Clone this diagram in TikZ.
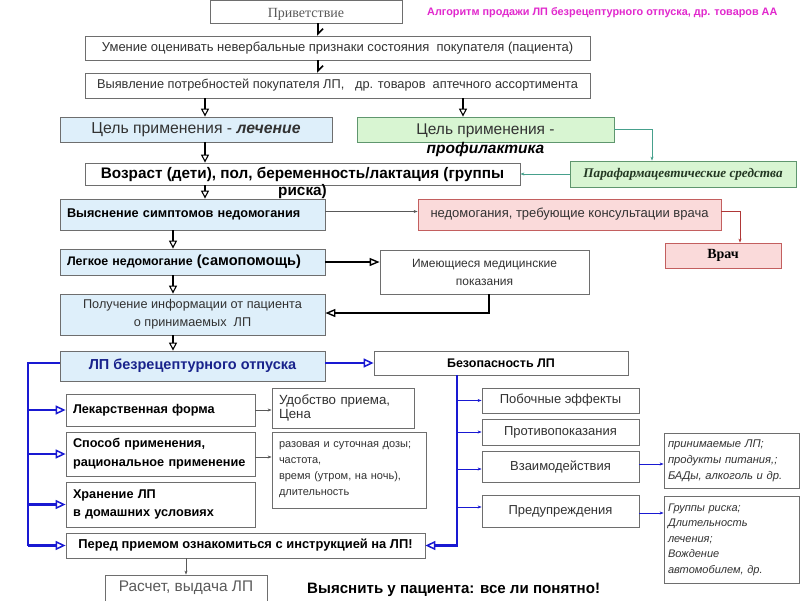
\documentclass[tikz,border=0pt]{standalone}
\usepackage{fontspec}
\setmainfont{Liberation Sans}
\newfontfamily\serifru{Liberation Serif}
\usetikzlibrary{arrows.meta}
\definecolor{lblue}{RGB}{222,239,250}
\definecolor{lgreen}{RGB}{216,245,210}
\definecolor{lpink}{RGB}{250,218,218}
\definecolor{bord}{RGB}{110,110,110}
\definecolor{pinkbord}{RGB}{195,95,95}
\definecolor{greenbord}{RGB}{95,150,110}
\definecolor{tealc}{RGB}{70,160,140}
\definecolor{dred}{RGB}{175,55,55}
\definecolor{myblue}{RGB}{25,25,210}
\definecolor{magent}{RGB}{225,40,205}
\definecolor{darkblue}{RGB}{25,35,140}
\definecolor{txt}{RGB}{50,50,50}
\definecolor{gtxt}{RGB}{90,90,90}
\tikzset{
  box/.style={draw=bord, line width=0.8pt, fill=white, inner sep=0pt, align=center, text=txt},
  bbox/.style={box, fill=lblue},
  gbox/.style={box, fill=lgreen, draw=greenbord},
  pbox/.style={box, fill=lpink, draw=pinkbord},
  fs/.style={font=\fontsize{#1}{16}\selectfont},
  conn/.style={draw=black, line width=1.1pt, -{Triangle[open, length=8pt, width=8pt, line width=1.1pt]}},
  harp/.style={draw=black, line width=1.6pt, -{Straight Barb[harpoon, length=5pt, width=10pt]}},
  thickc/.style={draw=black, line width=2pt, -{Triangle[open, length=10pt, width=8pt, line width=1.4pt]}},
  bthick/.style={draw=myblue, line width=2.4pt},
  btip/.style={-{Triangle[open, length=10pt, width=9pt, line width=1.5pt]}},
  bthin/.style={draw=myblue, line width=0.8pt, -{Stealth[length=4pt, width=3pt]}},
  gthin/.style={draw=gray!70!black, line width=0.8pt, -{Stealth[length=4pt, width=3pt]}},
  tthin/.style={draw=tealc, line width=0.9pt, -{Stealth[length=4pt, width=3pt]}},
  rthin/.style={draw=dred, line width=0.9pt, -{Stealth[length=4pt, width=3pt]}},
}
\begin{document}
\begin{tikzpicture}[x=1pt, y=-1pt]
\useasboundingbox[fill=white] (0,0) rectangle (800,600);

% title
\node[font=\bfseries\fontsize{10.85}{12}\selectfont, text=magent, anchor=west, inner sep=0pt] (title) at (427,13) {Алгоритм продажи ЛП безрецептурного отпуска, др. товаров АА};

% top chain
\node[box, minimum width=192pt, minimum height=23pt, text height=12pt, text depth=0pt, font=\serifru\fontsize{14}{15}\selectfont, text=gtxt] (privet) at (306,11.5) {Приветствие};
\node[box, minimum width=505pt, minimum height=24pt, fs=13] (umen) at (337.5,48) {Умение оценивать невербальные признаки состояния\ \ покупателя (пациента)};
\node[box, minimum width=505pt, minimum height=25pt, fs=12.8] (vyyav) at (337.5,85.5) {Выявление потребностей покупателя ЛП,\ \ \ др. товаров\ \ аптечного ассортимента};

\node[bbox, minimum width=272pt, minimum height=25pt, fs=15.8] (lech) at (196,129.5) {Цель применения - \textbf{\textit{лечение}}};
\node[gbox, minimum width=257pt, minimum height=25pt] (prof) at (485.5,129.5) {};
\node[align=center, text=txt, font=\fontsize{15.5}{19}\selectfont, inner sep=0pt, anchor=north] (proft) at (485.5,124) {Цель применения -\\\textcolor{black}{\textbf{\textit{профилактика}}}};

\node[box, minimum width=435pt, minimum height=22pt] (vozr) at (302.5,174) {};
\node[align=center, font=\bfseries\fontsize{15.3}{17}\selectfont, inner sep=0pt, anchor=north] (vozrt) at (302.5,167) {Возраст (дети), пол, беременность/лактация (группы\\риска)};

\node[gbox, minimum width=226pt, minimum height=26pt, font=\serifru\bfseries\itshape\fontsize{13.2}{15}\selectfont, text={rgb,255:red,35;green,55;blue,35}] (para) at (683,174) {Парафармацевтические средства};

\node[bbox, minimum width=265pt, minimum height=31pt, text width=251pt, align=left, inner xsep=7pt, font=\bfseries\fontsize{12.7}{15}\selectfont, text=black] (vyyas) at (192.5,214.5) {Выяснение симптомов недомогания};
\node[pbox, minimum width=303pt, minimum height=31pt, fs=13] (nedom) at (569.5,214.5) {недомогания, требующие консультации врача};
\node[pbox, minimum width=116pt, minimum height=25pt, font=\serifru\bfseries\fontsize{14}{16}\selectfont, text=black] (vrach) at (723,255.5) {Врач};

\node[bbox, minimum width=265pt, minimum height=26pt, text width=251pt, align=left, inner xsep=7pt, font=\bfseries\fontsize{12.4}{15}\selectfont, text=black] (legk) at (192.5,262) {Легкое недомогание {\fontsize{14.6}{15}\selectfont(самопомощь)}};
\node[box, minimum width=209pt, minimum height=44pt, font=\fontsize{12}{18}\selectfont] (imeyu) at (484.5,272) {Имеющиеся медицинские\\показания};

\node[bbox, minimum width=265pt, minimum height=41pt, font=\fontsize{12.7}{18}\selectfont] (poluch) at (192.5,314.5) {Получение информации от пациента\\о принимаемых\ \ ЛП};
\node[bbox, minimum width=265pt, minimum height=30pt, font=\bfseries\fontsize{14.5}{16}\selectfont, text=darkblue] (lpbez) at (192.5,366) {ЛП безрецептурного отпуска};
\node[box, minimum width=254pt, minimum height=24pt, font=\bfseries\fontsize{12.5}{15}\selectfont, text=black] (bezop) at (501,363) {Безопасность ЛП};

% left column
\node[box, minimum width=189pt, minimum height=32pt, text width=175pt, align=left, inner xsep=7pt, font=\bfseries\fontsize{12.7}{15}\selectfont, text=black] (lekf) at (160.5,410) {Лекарственная форма};
\node[box, minimum width=189pt, minimum height=44pt, text width=175pt, align=left, inner xsep=7pt, font=\bfseries\fontsize{12.7}{19}\selectfont, text=black] (sposob) at (160.5,454) {Способ применения,\\рациональное применение};
\node[box, minimum width=189pt, minimum height=45pt, text width=175pt, align=left, inner xsep=7pt, font=\bfseries\fontsize{12.7}{18}\selectfont, text=black] (hran) at (160.5,504.5) {Хранение ЛП\\в домашних условиях};
\node[box, minimum width=359pt, minimum height=25pt, font=\bfseries\fontsize{12.9}{15}\selectfont, text=black] (pered) at (245.5,545.5) {Перед приемом ознакомиться с инструкцией на ЛП!};
\node[box, minimum width=162pt, minimum height=26pt, font=\fontsize{15.4}{16}\selectfont, text=gtxt] (raschet) at (186,588) {Расчет, выдача ЛП};
\node[font=\bfseries\fontsize{15.1}{16}\selectfont, anchor=west, inner sep=0pt] (vyyasnit) at (307,590) {Выяснить у пациента: все ли понятно!};

% middle column
\node[box, minimum width=140pt, minimum height=40pt, text width=128pt, align=left, inner xsep=7pt, font=\fontsize{13.3}{14.5}\selectfont] (udob) at (343,408) {Удобство приема,\\Цена};
\node[box, minimum width=152pt, minimum height=76pt, text width=140pt, align=left, inner xsep=7pt, font=\fontsize{11}{16}\selectfont] (razov) at (349,470) {разовая и суточная дозы;\\частота,\\время (утром, на ночь),\\длительность};

% right safety column
\node[box, minimum width=157pt, minimum height=25pt, fs=13] (pob) at (560.5,400.5) {Побочные эффекты};
\node[box, minimum width=157pt, minimum height=26pt, fs=13] (prot) at (560.5,432) {Противопоказания};
\node[box, minimum width=157pt, minimum height=31pt, fs=13] (vzaim) at (560.5,466.5) {Взаимодействия};
\node[box, minimum width=157pt, minimum height=32pt, fs=13] (pred) at (560.5,511) {Предупреждения};
\node[box, minimum width=135pt, minimum height=55pt, text width=127pt, align=left, inner xsep=4pt, font=\itshape\fontsize{11.2}{16}\selectfont] (prin) at (731.5,460.5) {принимаемые ЛП;\\продукты питания,;\\БАДы, алкоголь и др.};
\node[box, minimum width=135pt, minimum height=87pt, text width=127pt, align=left, inner xsep=4pt, font=\itshape\fontsize{11}{15.5}\selectfont] (grup) at (731.5,539.5) {Группы риска;\\Длительность\\лечения;\\Вождение\\автомобилем, др.};

% connectors
\coordinate (x318) at (318,0);
\coordinate (x205) at (205,0);
\coordinate (x463) at (463,0);
\coordinate (x173) at (173,0);
\coordinate (x489) at (489,0);
\coordinate (x652) at (652,0);
\coordinate (x740) at (740,0);
\draw[harp] (x318 |- privet.south) -- (x318 |- umen.north);
\draw[harp] (x318 |- umen.south) -- (x318 |- vyyav.north);
\draw[conn] (x205 |- vyyav.south) -- (x205 |- lech.north);
\draw[conn] (x463 |- vyyav.south) -- (x463 |- prof.north);
\draw[conn] (x205 |- lech.south) -- (x205 |- vozr.north);
\draw[conn] (x205 |- vozr.south) -- (x205 |- vyyas.north);
\draw[conn] (x173 |- vyyas.south) -- (x173 |- legk.north);
\draw[conn] (x173 |- legk.south) -- (x173 |- poluch.north);
\draw[conn] (x173 |- poluch.south) -- (x173 |- lpbez.north);
\draw[thickc] (legk.east) -- (imeyu.west |- legk.east);
\draw[thickc] (x489 |- imeyu.south) |- ([yshift=1.5pt]poluch.east);

\draw[tthin] (prof.east) -| (x652 |- para.north);
\draw[tthin] (para.west) -- (vozr.east);
\draw[gthin] ([yshift=3pt]vyyas.east) -- ([yshift=3pt]nedom.west);
\draw[rthin] ([yshift=3pt]nedom.east) -| (x740 |- vrach.north);

% blue
\coordinate (bl) at (28,0);
\coordinate (br) at (457,0);
\draw[bthick, btip] ([yshift=3pt]lpbez.east) -- (bezop.west);
\draw[bthick] ([yshift=3pt]lpbez.west) -| (bl |- pered.west);
\foreach \n in {lekf,sposob,hran,pered} \draw[bthick, btip] (bl |- \n.west) -- (\n.west);
\draw[bthick, btip] (br |- bezop.south) |- (pered.east);
\draw[bthin] (br |- pob.west) -- (pob.west);
\draw[bthin] (br |- prot.west) -- (prot.west);
\draw[bthin] ([yshift=-2.5pt]br |- vzaim.west) -- ([yshift=-2.5pt]vzaim.west);
\draw[bthin] ([yshift=4pt]br |- pred.west) -- ([yshift=4pt]pred.west);
\draw[bthin] ([yshift=2.5pt]vzaim.east) -- ([yshift=2.5pt]vzaim.east -| prin.west);
\draw[bthin] ([yshift=-2pt]pred.east) -- ([yshift=-2pt]pred.east -| grup.west);

\draw[gthin] (lekf.east) -- (lekf.east -| udob.west);
\draw[gthin] ([yshift=-3pt]sposob.east) -- ([yshift=-3pt]sposob.east -| razov.west);
\draw[gthin] (raschet.north |- pered.south) -- (raschet.north);
\end{tikzpicture}
\end{document}
